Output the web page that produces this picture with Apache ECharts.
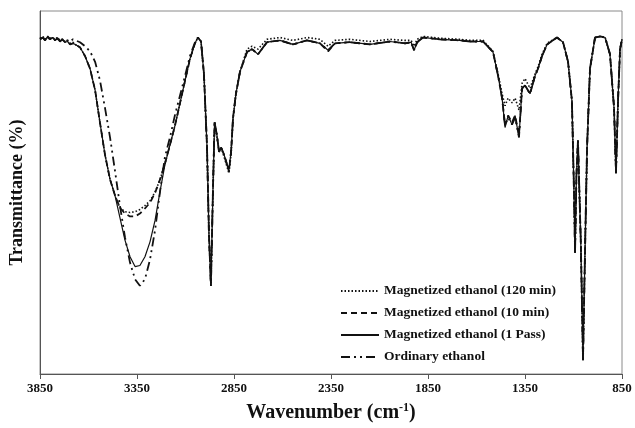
<!DOCTYPE html>
<html>
<head>
<meta charset="utf-8">
<script src="https://cdn.jsdelivr.net/npm/echarts@6/dist/echarts.min.js"></script>
<style>html,body{margin:0;padding:0;background:#fff}#c{width:635px;height:428px}</style>
</head>
<body>
<div id="c"></div>
<script>
// Wavenumbers (cm-1)
var wavenumbers = [3850,3835,3824,3810,3798,3785,3773,3760,3747,3735,
3721,3708,3695,3680,3670,3644,3618,3592,3566,3541,
3515,3489,3463,3438,3412,3386,3360,3335,3309,3283,
3257,3231,3206,3180,3154,3128,3102,3077,3051,3036,
3020,3005,2989,2979,2969,2958,2950,2938,2927,2917,
2901,2886,2876,2865,2855,2840,2819,2783,2757,2726,
2680,2613,2546,2474,2407,2365,2329,2252,2149,2046,
1968,1937,1922,1906,1876,1788,1685,1633,1566,1515,
1489,1468,1453,1437,1417,1401,1381,1365,1350,1324,
1298,1283,1262,1236,1185,1154,1128,1108,1097,1092,
1085,1077,1062,1051,1040,1030,1015,989,963,937,
912,891,881,870,860,850];

var mag120 = [92.5,93.0,92.2,93.0,92.5,92.7,92.2,92.7,91.9,92.2,
91.6,91.9,91.1,91.4,90.8,90.0,87.6,84.1,78.2,69.3,
60.4,53.6,49.1,45.8,44.7,44.5,44.7,45.3,46.4,47.7,
50.1,53.6,58.0,63.1,68.5,74.7,80.9,86.8,91.1,92.7,
91.6,82.7,62.5,38.3,24.3,51.8,69.3,65.2,61.2,62.5,
59.8,57.1,55.3,60.6,70.1,77.2,83.3,89.5,90.3,89.5,
92.2,92.7,91.9,92.7,92.2,90.3,91.9,92.2,91.6,92.2,
91.9,91.9,90.3,92.2,93.0,92.5,92.2,91.9,91.9,88.9,
82.7,77.2,73.9,76.0,74.7,76.0,72.7,80.1,81.4,78.7,
82.7,84.6,88.1,91.1,92.7,91.4,86.0,75.2,49.1,33.4,
54.4,64.4,35.6,3.8,35.6,62.5,84.1,92.7,93.0,92.7,
88.1,73.3,55.3,76.0,89.5,92.2];

var mag10 = [92.2,92.7,91.9,92.7,92.2,92.7,91.9,92.5,91.6,92.2,
91.4,91.6,90.8,91.1,90.8,90.0,87.6,84.1,78.2,69.3,
60.4,53.6,49.1,45.8,44.2,43.4,43.4,44.2,45.6,47.2,
49.9,53.6,58.0,63.1,68.5,74.7,80.9,86.8,91.1,92.7,
91.6,82.7,62.5,38.3,24.3,51.8,69.3,65.8,61.2,62.5,
60.4,57.7,55.8,61.2,70.6,77.2,83.3,88.7,89.5,88.1,
91.4,91.9,90.8,91.9,91.1,88.9,91.1,91.4,90.8,91.6,
91.1,91.4,89.2,91.4,92.7,92.2,91.9,91.6,91.6,88.7,
82.2,76.0,68.5,71.2,69.3,71.2,65.8,78.7,79.5,77.2,
82.2,84.1,87.6,90.8,92.7,91.4,86.0,75.2,49.1,33.4,
54.4,64.4,35.6,3.8,35.6,62.5,84.1,92.7,93.0,92.7,
88.1,73.3,55.3,76.0,89.5,92.2];

var mag1pass = [92.2,92.7,91.9,93.0,92.2,92.7,91.9,92.5,91.6,92.2,
91.4,91.6,90.8,91.1,90.8,90.0,87.6,84.1,78.2,69.3,
60.4,53.6,49.1,43.1,36.9,32.3,29.6,29.9,32.3,36.4,
42.3,50.4,57.7,63.1,68.5,74.7,80.9,86.8,91.1,92.7,
91.6,82.7,62.5,38.3,24.3,51.8,69.3,65.8,61.2,62.5,
60.4,57.7,56.3,61.2,70.6,77.2,83.3,88.7,89.5,88.1,
91.4,91.9,90.8,91.9,91.1,89.2,91.1,91.4,90.8,91.6,
91.1,91.4,89.2,91.4,92.7,92.2,91.9,91.6,91.6,88.7,
82.2,76.0,67.9,71.2,68.7,71.2,65.2,78.7,79.5,77.2,
82.2,84.1,87.6,90.8,92.7,91.4,86.0,75.2,49.1,33.4,
54.4,64.4,35.6,4.6,35.6,62.5,84.1,92.7,93.0,92.7,
88.1,73.3,55.3,76.0,89.5,92.2];

var ordinary = [92.2,92.7,91.9,93.0,92.2,92.7,91.9,92.5,91.6,92.2,
91.6,91.9,91.6,92.2,91.9,91.4,90.3,88.9,86.0,80.9,
73.3,65.2,55.8,46.4,37.7,30.7,26.1,24.3,26.1,31.5,
39.6,50.4,59.8,65.2,71.4,76.8,82.2,87.6,91.4,92.7,
91.6,82.7,62.5,38.3,24.3,51.8,69.3,65.8,61.2,62.5,
60.4,57.7,56.3,61.2,70.6,77.2,83.3,88.7,89.5,88.1,
91.4,91.9,90.8,91.9,91.1,89.2,91.1,91.4,90.8,91.6,
91.1,91.4,89.2,91.4,92.7,92.2,91.9,91.6,91.6,88.7,
82.2,76.0,68.5,70.6,68.7,70.6,65.2,78.7,79.5,77.2,
82.2,84.1,87.6,90.8,92.7,91.4,86.0,75.2,49.1,33.4,
54.4,64.4,35.6,3.8,35.6,62.5,84.1,92.7,93.0,92.7,
88.1,73.3,55.3,76.0,89.5,92.2];

var seriesNames = ['Magnetized ethanol (120 min)','Magnetized ethanol (10 min)','Magnetized ethanol (1 Pass)','Ordinary ethanol'];
var xTicks = [850,1350,1850,2350,2850,3350,3850];

function pairs(vals){ return wavenumbers.map(function(w,i){ return [w, vals[i]]; }); }

var font = '"Liberation Serif","Times New Roman",serif';
var chart = echarts.init(document.getElementById('c'));
chart.setOption({
  animation:false,
  backgroundColor:'#fff',
  grid:{left:40,right:13,top:11,bottom:46,show:true,borderColor:'#8a8a8a',borderWidth:1},
  legend:{
    orient:'vertical', left:340, top:284, padding:0, itemGap:8, itemWidth:38, itemHeight:14,
    data:seriesNames,
    itemStyle:{color:'rgba(0,0,0,0)',borderWidth:0,opacity:0},
    textStyle:{fontFamily:font,fontWeight:'bold',fontSize:13.5,color:'#111'}
  },
  xAxis:{
    type:'value', min:850, max:3850, inverse:true,
    axisLine:{show:true,lineStyle:{color:'#555',width:1}},
    axisTick:{show:true,length:5,customValues:xTicks,lineStyle:{color:'#555'}},
    axisLabel:{customValues:xTicks,formatter:function(v){return String(v);},fontFamily:font,fontWeight:'bold',fontSize:13,color:'#111',margin:8},
    splitLine:{show:false},
    name:'Wavenumber (cm{sup|-1})', nameLocation:'middle', nameGap:28,
    nameTextStyle:{fontFamily:font,fontWeight:'bold',fontSize:20,color:'#111',
      rich:{sup:{fontFamily:font,fontWeight:'bold',fontSize:12,verticalAlign:'top',padding:[0,0,10,0],color:'#111'}}}
  },
  yAxis:{
    type:'value', min:0, max:100,
    axisLine:{show:true,lineStyle:{color:'#555'}},
    axisTick:{show:false}, axisLabel:{show:false}, splitLine:{show:false},
    name:'Transmittance (%)', nameLocation:'middle', nameGap:14,
    nameTextStyle:{fontFamily:font,fontWeight:'bold',fontSize:18,color:'#111'}
  },
  series:[
    {name:seriesNames[0],type:'line',symbol:'none',data:pairs(mag120),color:'#111',
     lineStyle:{color:'#111',width:1.6,type:[1.5,2]}},
    {name:seriesNames[1],type:'line',symbol:'none',data:pairs(mag10),color:'#111',
     lineStyle:{color:'#111',width:1.8,type:[6,4]}},
    {name:seriesNames[2],type:'line',symbol:'none',data:pairs(mag1pass),color:'#111',
     lineStyle:{color:'#111',width:1.2,type:'solid'}},
    {name:seriesNames[3],type:'line',symbol:'none',data:pairs(ordinary),color:'#111',
     lineStyle:{color:'#111',width:1.8,type:[9,4,2,4,2,4]}}
  ]
});
</script>
</body>
</html>
